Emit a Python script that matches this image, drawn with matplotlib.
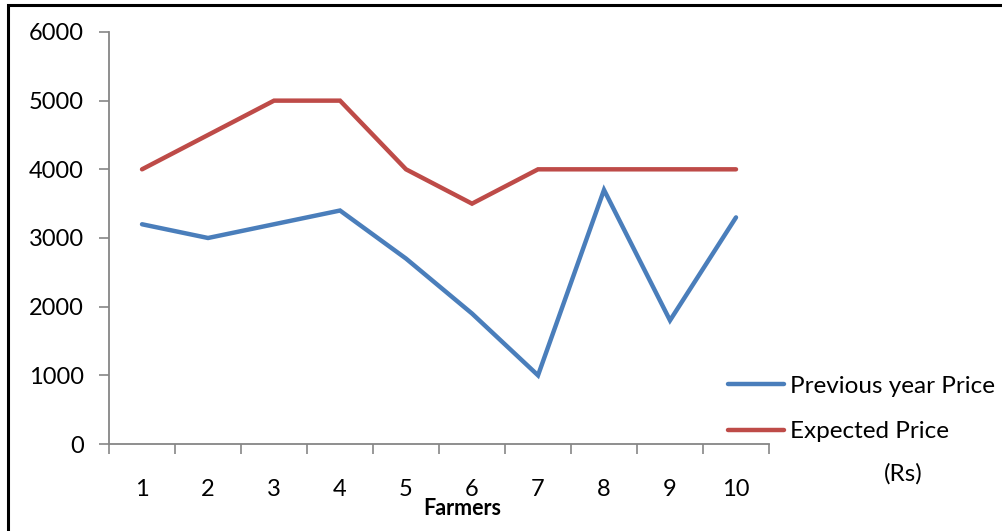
import matplotlib.pyplot as plt
from matplotlib.patches import Rectangle

# Data
farmers = [1, 2, 3, 4, 5, 6, 7, 8, 9, 10]
previous_price = [3200, 3000, 3200, 3400, 2700, 1900, 1000, 3700, 1800, 3300]
expected_price = [4000, 4500, 5000, 5000, 4000, 3500, 4000, 4000, 4000, 4000]
yticks = [0, 1000, 2000, 3000, 4000, 5000, 6000]

plt.rcParams['font.family'] = ['Lato', 'DejaVu Sans']

fig = plt.figure(figsize=(10.03, 5.31), dpi=100)
ax = fig.add_axes([0.1087, 0.1638, 0.658, 0.776])

blue = '#4A7EBB'
red = '#BE4B48'
ax.plot(farmers, previous_price, color=blue, lw=3.2, solid_capstyle='round',
        solid_joinstyle='miter', label='Previous year Price')
ax.plot(farmers, expected_price, color=red, lw=3.2, solid_capstyle='round',
        solid_joinstyle='miter', label='Expected Price')

ax.set_xlim(0.5, 10.5)
ax.set_ylim(0, 6000)
ax.set_yticks(yticks)

# ticks between categories, labels centred on them
ax.set_xticks([i + 0.5 for i in range(0, 11)])
ax.set_xticklabels([])
ax.set_xticks(farmers, minor=True)
ax.set_xticklabels([str(f) for f in farmers], minor=True, fontsize=17)
ax.tick_params(axis='x', which='major', length=7, width=1.2, color='#868686')
ax.tick_params(axis='x', which='minor', length=0, pad=25)
ax.tick_params(axis='y', length=7, width=1.2, color='#868686', labelsize=17, pad=11)

for s in ['top', 'right']:
    ax.spines[s].set_visible(False)
for s in ['left', 'bottom']:
    ax.spines[s].set_color('#868686')
    ax.spines[s].set_linewidth(1.3)

fig.text(0.461, 0.043, 'Farmers', ha='center', va='center', fontsize=15.5, fontweight='bold')

fig.legend(loc='upper left', bbox_to_anchor=(0.726, 0.292), frameon=False,
           fontsize=17.5, handlelength=2.3, handletextpad=0.25, labelspacing=1.0,
           borderaxespad=0, borderpad=0)
fig.text(0.901, 0.107, '(Rs)', ha='center', va='center', fontsize=17.5)

# black frame around the chart
fig.patches.append(Rectangle((0.0075, -0.1), 1.1, 1.0915, transform=fig.transFigure,
                             fill=False, edgecolor='black', lw=2.2, clip_on=False))

fig.savefig('out.png', dpi=100)
